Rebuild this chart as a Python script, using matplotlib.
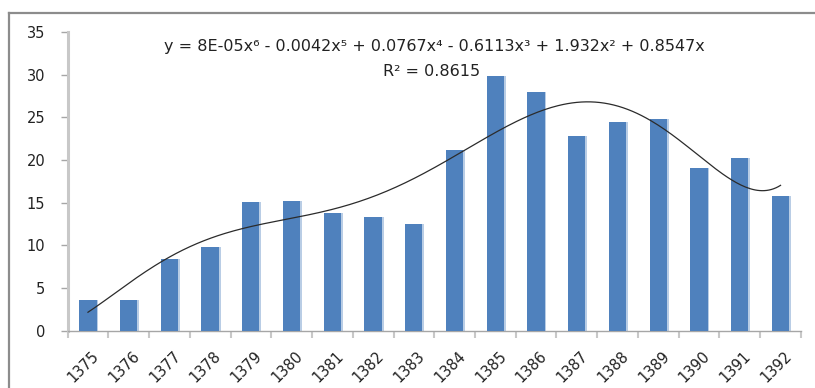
import numpy as np
import matplotlib
matplotlib.use("Agg")
import matplotlib.pyplot as plt
from matplotlib.lines import Line2D

# Data
years = ["1375", "1376", "1377", "1378", "1379", "1380", "1381", "1382", "1383",
         "1384", "1385", "1386", "1387", "1388", "1389", "1390", "1391", "1392"]
values = [3.6, 3.6, 8.4, 9.85, 15.1, 15.2, 13.8, 13.3, 12.5,
          21.2, 29.9, 28.0, 22.8, 24.4, 24.8, 19.1, 20.2, 15.8]
y_ticks = [0, 5, 10, 15, 20, 25, 30, 35]
equation = "y = 8E-05x\u2076 - 0.0042x\u2075 + 0.0767x\u2074 - 0.6113x\u00b3 + 1.932x\u00b2 + 0.8547x"
r_squared = "R\u00b2 = 0.8615"

plt.rcParams["font.family"] = ["DejaVu Sans"]

W, H = 815, 388
fig = plt.figure(figsize=(W / 100, H / 100), dpi=100)
fig.patch.set_facecolor("white")

# chart frame (top and left edges)
frame_col = "#8c8c8c"
fig.add_artist(Line2D([9 / W, 9 / W], [0, 1 - 13 / H], color=frame_col, lw=1.6,
                      transform=fig.transFigure))
fig.add_artist(Line2D([9 / W, 1], [1 - 13 / H, 1 - 13 / H], color=frame_col, lw=1.6,
                      transform=fig.transFigure))

left, right = 67.6 / W, 800.9 / W
bottom = (H - 330.7) / H
top = (H - 32.0) / H
ax = fig.add_axes([left, bottom, right - left, top - bottom])

x = np.arange(len(years))
bar_col = "#4f81bd"
edge_col = "#b9cde5"
# bars with a pale right-hand rim
ax.bar(x - 0.215, values, width=0.47, align="edge", color=edge_col, zorder=2)
ax.bar(x - 0.215, values, width=0.425, align="edge", color=bar_col, zorder=3)

# 6th-order polynomial trend line through the origin
t = np.arange(1, len(values) + 1, dtype=float)
A = np.vstack([t ** k for k in range(6, 0, -1)]).T
coef, *_ = np.linalg.lstsq(A, np.array(values), rcond=None)
tt = np.linspace(1, len(values), 300)
trend = np.vstack([tt ** k for k in range(6, 0, -1)]).T @ coef
ax.plot(tt - 1, trend, color="#2b2b2b", lw=0.9, zorder=4)

ax.set_xlim(-0.5, len(years) - 0.5)
ax.set_ylim(0, 35)

ax.set_yticks(y_ticks)
ax.set_yticklabels([str(v) for v in y_ticks], fontsize=10.5, color="#222222")
ax.tick_params(axis="y", direction="out", length=5, width=1, color="#a6a6a6", pad=11)

# category boundaries as x tick marks
ax.set_xticks(np.arange(-0.5, len(years), 1.0), minor=False)
ax.set_xticklabels([])
ax.tick_params(axis="x", which="major", direction="out", length=5, width=1.5,
               color="#c8c8c8")
ax.set_xticks(x + 0.08, minor=True)
ax.set_xticklabels(years, minor=True, rotation=45, ha="right", va="top",
                   rotation_mode="anchor", fontsize=10.5, color="#222222")
ax.tick_params(axis="x", which="minor", length=0, pad=13)

for s in ["top", "right"]:
    ax.spines[s].set_visible(False)
ax.spines["left"].set_color("#c8c8c8")
ax.spines["left"].set_linewidth(2.2)
ax.spines["bottom"].set_color("#a6a6a6")
ax.spines["bottom"].set_linewidth(1.0)

fig.text(434 / W, 1 - 47 / H, equation, ha="center", va="center",
         fontsize=11.5, color="#222222")
fig.text(432 / W, 1 - 72 / H, r_squared, ha="center", va="center",
         fontsize=11.5, color="#222222")

fig.savefig("out.png", dpi=100, facecolor="white")
